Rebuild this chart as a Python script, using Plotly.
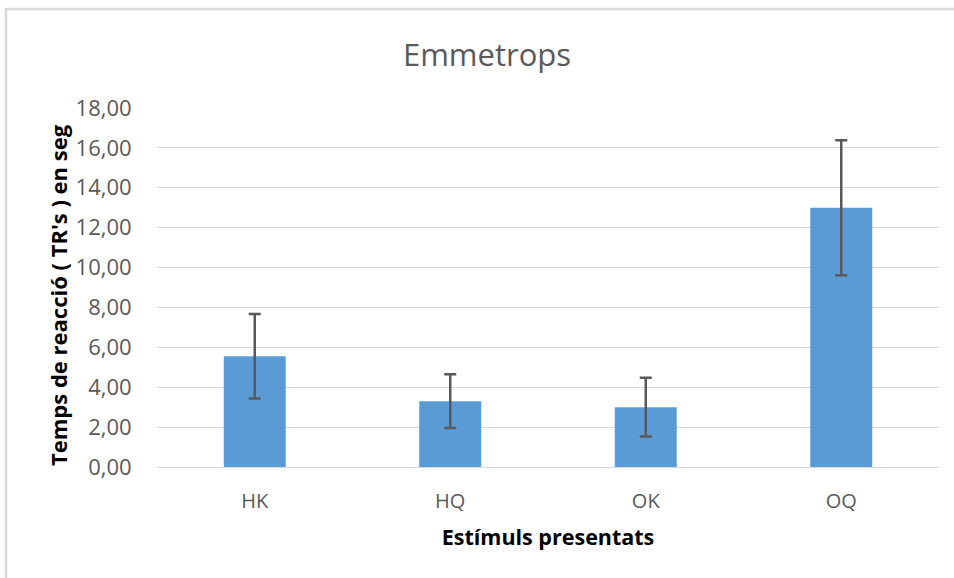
import plotly.graph_objects as go

categories = ["HK", "HQ", "OK", "OQ"]
means = [5.55, 3.30, 3.00, 13.00]
errors = [2.12, 1.35, 1.47, 3.38]
y_ticks = [0, 2, 4, 6, 8, 10, 12, 14, 16, 18]

W, H = 954, 578
L, R, T, B = 157, 15, 108, 111
pw = W - L - R
ph = H - T - B

fig = go.Figure()
fig.add_trace(go.Bar(
    x=categories, y=means, width=0.317,
    marker=dict(color="#5b9bd5", line=dict(width=0)),
    error_y=dict(type="data", array=errors, visible=True,
                 color="#595959", thickness=2.5, width=6),
))

fig.update_layout(
    width=W, height=H,
    margin=dict(l=L, r=R, t=T, b=B),
    paper_bgcolor="white", plot_bgcolor="white",
    separators=",.",
    showlegend=False,
    font=dict(family="Open Sans", color="#595959"),
    title=dict(text="Emmetrops", x=487 / W, xanchor="center",
               y=1 - 55 / H, yanchor="middle", yref="container",
               font=dict(size=31, color="#595959", family="Open Sans")),
    xaxis=dict(showgrid=False, showline=False, zeroline=False,
               tickfont=dict(size=20, color="#595959"),
               ticks="outside", ticklen=16, tickcolor="rgba(0,0,0,0)",
               title=dict(text="<b>Estímuls presentats</b>", standoff=16,
                          font=dict(size=21.5, color="black"))),
    yaxis=dict(range=[0, 18], tickvals=y_ticks, tickformat=".2f",
               showgrid=True, gridcolor="#d9d9d9", gridwidth=1,
               zeroline=True, zerolinecolor="#d9d9d9", zerolinewidth=1,
               showline=False,
               tickfont=dict(size=22, color="#595959"),
               ticks="outside", ticklen=20, tickcolor="rgba(0,0,0,0)"),
)

# y-axis title placed as an annotation (centred slightly below plot middle)
fig.add_annotation(text="<b>Temps de reacció ( TR's ) en seg</b>",
                   xref="paper", yref="paper",
                   x=(58 - L) / pw, y=(T + ph - 295) / ph,
                   xanchor="center", yanchor="middle", textangle=-90,
                   showarrow=False, font=dict(size=22, color="black", family="Open Sans"))

# chart frame (left and top edges, light grey)
x_left = (6 - L) / pw
y_top = 1 + (T - 9) / ph
x_right = (W + 5 - L) / pw
y_bottom = -(B + 5) / ph
fig.add_shape(type="rect", xref="paper", yref="paper",
              x0=x_left, x1=x_right, y0=y_bottom, y1=y_top,
              line=dict(color="#d9d9d9", width=2.5), layer="below")

fig.write_html("out.html", config={"displayModeBar": False},
               post_script="document.body.style.margin='0';document.body.style.overflow='hidden';")
